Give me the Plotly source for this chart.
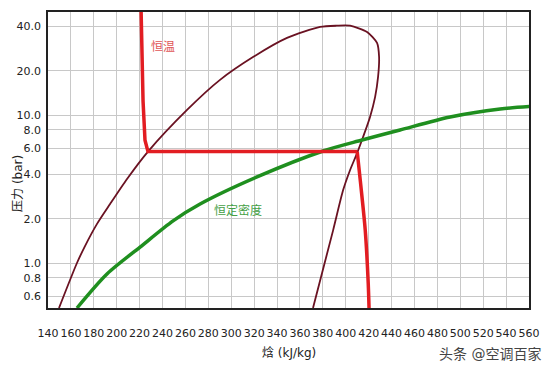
import plotly.graph_objects as go

# Saturation dome (enthalpy kJ/kg, pressure bar)
dome_h = [149.6, 165.3, 172.3, 182.8, 194.2, 209, 227.3, 261.4, 290.2, 319, 348.7, 377.6, 392, 403.8,
          418.6, 427.3, 429.1, 428.2, 425.6, 421.2, 415.1, 409.9, 403.8, 397.7, 389, 371.4]
dome_p = [0.5, 1.007, 1.31, 1.85, 2.52, 3.72, 5.7, 10.9, 17.4, 24.8, 33.4, 39.6, 40.4, 40.4,
          36.6, 30.9, 24.8, 18.2, 13.3, 9.77, 7.15, 5.57, 4.28, 3.13, 1.68, 0.5]

# Isotherm (恒温): left leg + plateau, and right (vapour) leg
iso_t_left_h = [221.2, 223, 224.7, 227.3, 410]
iso_t_left_p = [55, 12.5, 6.8, 5.7, 5.7]
iso_t_right_h = [410, 412.9, 417, 419.6, 420.4]
iso_t_right_p = [5.7, 3.5, 1.68, 0.738, 0.48]

# Constant density (恒定密度)
iso_d_h = [165.3, 191.5, 220.4, 249.2, 272.8, 322.5, 380.2, 414.2, 447.4, 491.1, 534.8, 567]
iso_d_p = [0.5, 0.849, 1.29, 1.94, 2.52, 3.84, 5.75, 6.82, 7.98, 9.77, 11.06, 11.58]

y_tickvals = [0.6, 0.8, 1.0, 2.0, 4.0, 6.0, 8.0, 10.0, 20.0, 40.0]
y_ticktext = ["0.6", "0.8", "1.0", "2.0", "4.0", "6.0", "8.0", "10.0", "20.0", "40.0"]

FONT = "DejaVu Sans, Verdana, Noto Sans CJK SC, sans-serif"
RED = "#e21d22"

fig = go.Figure()
fig.add_trace(go.Scatter(x=dome_h, y=dome_p, mode="lines",
                         line=dict(color="#6a1222", width=1.8, shape="spline", smoothing=0.7), hoverinfo="skip"))
fig.add_trace(go.Scatter(x=iso_d_h, y=iso_d_p, mode="lines",
                         line=dict(color="#1f8f1f", width=3.5, shape="spline", smoothing=0.8), hoverinfo="skip"))
fig.add_trace(go.Scatter(x=iso_t_left_h, y=iso_t_left_p, mode="lines",
                         line=dict(color=RED, width=3.5), hoverinfo="skip"))
fig.add_trace(go.Scatter(x=iso_t_right_h, y=iso_t_right_p, mode="lines",
                         line=dict(color=RED, width=3.5, shape="spline", smoothing=0.8), hoverinfo="skip"))

fig.add_annotation(x=240.4, y=1.463, xref="x", yref="y", text="恒温", showarrow=False,
                   xanchor="center", yanchor="middle",
                   font=dict(family=FONT, size=12, color="#e05555"))
fig.add_annotation(x=306, y=0.361, xref="x", yref="y", text="恒定密度", showarrow=False,
                   xanchor="center", yanchor="middle",
                   font=dict(family=FONT, size=12, color="#45a045"))
fig.add_annotation(x=-0.064, y=0.42, xref="paper", yref="paper", text="压力 (bar)", textangle=-90,
                   xanchor="center", yanchor="middle",
                   showarrow=False, font=dict(family=FONT, size=12, color="#222"))
fig.add_annotation(x=0.5, y=-0.152, xref="paper", yref="paper", text="焓 (kJ/kg)",
                   xanchor="center", yanchor="middle",
                   showarrow=False, font=dict(family=FONT, size=12, color="#222"))
fig.add_annotation(x=1.029, y=-0.155, xref="paper", yref="paper", text="头条 @空调百家",
                   xanchor="right", yanchor="middle",
                   showarrow=False, font=dict(family=FONT, size=14, color="#444"))

fig.update_xaxes(range=[140, 560], tick0=140, dtick=20, tickangle=0,
                 showgrid=True, gridcolor="#c8c8c8", gridwidth=1,
                 showline=True, mirror=True, linecolor="#222", linewidth=1.5,
                 ticks="", ticklabelstandoff=14, zeroline=False,
                 tickfont=dict(family=FONT, size=11, color="#222"))
fig.update_yaxes(type="log", range=[-0.30103, 1.69897], tickvals=y_tickvals, ticktext=y_ticktext,
                 showgrid=True, gridcolor="#c8c8c8", gridwidth=1,
                 showline=True, mirror=True, linecolor="#222", linewidth=1.5,
                 ticks="", ticklabelstandoff=3, zeroline=False,
                 tickfont=dict(family=FONT, size=11, color="#222"))

# page body has an 8px margin, so the figure is sized/offset to land the plot area
# at x 48..529, y 12..308 of the 554x365 window
fig.update_layout(width=546, height=357, margin=dict(l=40, r=25, t=4, b=57, autoexpand=False),
                  plot_bgcolor="white", paper_bgcolor="white", showlegend=False,
                  font=dict(family=FONT))

fig.write_html("out.html")
